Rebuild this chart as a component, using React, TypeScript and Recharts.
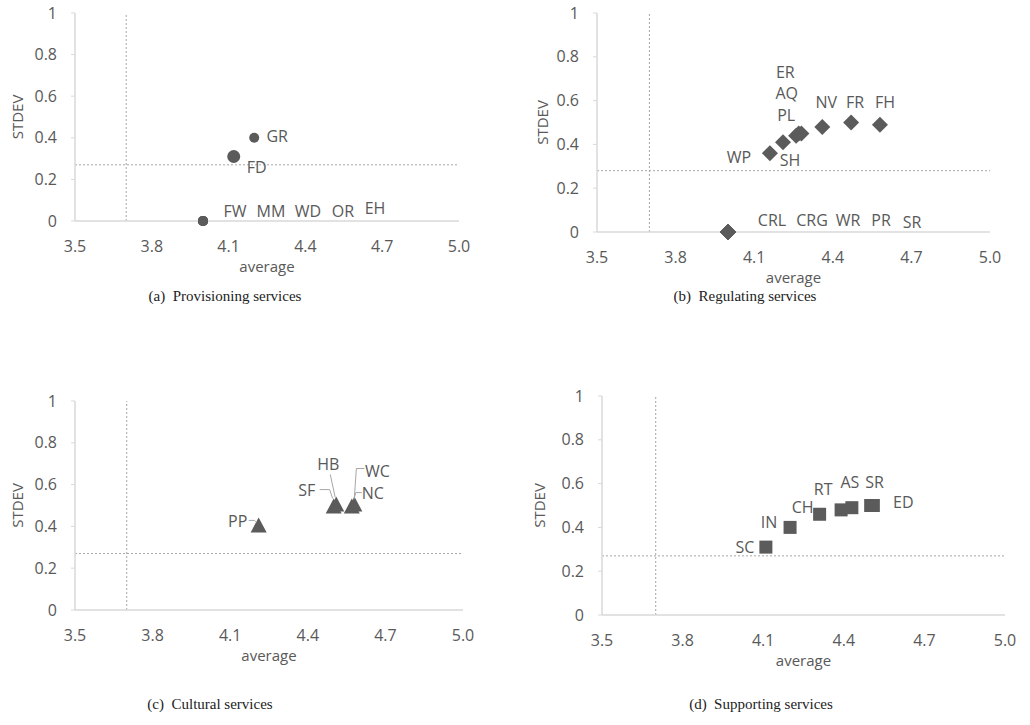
import { ScatterChart, Scatter, XAxis, YAxis, ReferenceLine } from "recharts"

// axis ticks shared by the four panels
const xTicks = [3.5, 3.8, 4.1, 4.4, 4.7, 5.0]
const yTicks = [0, 0.2, 0.4, 0.6, 0.8, 1]

// (a) provisioning
const provNames = ["FW", "MM", "WD", "OR", "EH", "FD", "GR"]
const provAvg = [4.0, 4.0, 4.0, 4.0, 4.0, 4.12, 4.2]
const provStdev = [0, 0, 0, 0, 0, 0.31, 0.4]

// (b) regulating
const regNames = ["CRL", "CRG", "WR", "PR", "SR", "WP", "SH", "PL", "AQ", "ER", "NV", "FR", "FH"]
const regAvg = [4.0, 4.0, 4.0, 4.0, 4.0, 4.16, 4.21, 4.26, 4.27, 4.28, 4.36, 4.47, 4.58]
const regStdev = [0, 0, 0, 0, 0, 0.36, 0.41, 0.44, 0.45, 0.45, 0.48, 0.5, 0.49]

// (c) cultural
const culNames = ["PP", "SF", "HB", "NC", "WC"]
const culAvg = [4.21, 4.5, 4.51, 4.57, 4.58]
const culStdev = [0.4, 0.49, 0.5, 0.49, 0.5]

// (d) supporting
const supNames = ["SC", "IN", "CH", "RT", "AS", "SR", "ED"]
const supAvg = [4.11, 4.2, 4.31, 4.39, 4.43, 4.5, 4.51]
const supStdev = [0.31, 0.4, 0.46, 0.48, 0.49, 0.5, 0.5]

// mean lines
const avgCut = 3.7
const stdevCuts = [0.27, 0.28, 0.27, 0.27]

const MARK = "#5b5b5b"
const TEXT = "#595959"
const AXIS = "#d9d9d9"
const GUIDE = "#a6a6a6"
const FONT = "'Open Sans', 'Noto Sans', sans-serif"

type Row = { name: string; avg: number; sd: number }
type LabelPos = { dx: number; dy: number; leader?: number[][] }

const rows = (names: string[], avg: number[], sd: number[]): Row[] =>
  names.map((name, i) => ({ name, avg: avg[i], sd: sd[i] }))

// label placement, pixels relative to the marker
const provLabels: Record<string, LabelPos> = {
  FW: { dx: 32, dy: -10 },
  MM: { dx: 68, dy: -10 },
  WD: { dx: 105, dy: -10 },
  OR: { dx: 140, dy: -10 },
  EH: { dx: 172, dy: -13 },
  FD: { dx: 23, dy: 10 },
  GR: { dx: 23, dy: -2 },
}
const regLabels: Record<string, LabelPos> = {
  CRL: { dx: 44, dy: -12 },
  CRG: { dx: 84, dy: -12 },
  WR: { dx: 120, dy: -12 },
  PR: { dx: 153, dy: -12 },
  SR: { dx: 184, dy: -10 },
  WP: { dx: -31, dy: 4 },
  SH: { dx: 7, dy: 18 },
  PL: { dx: -10, dy: -21 },
  AQ: { dx: -12, dy: -40 },
  ER: { dx: -16, dy: -61 },
  NV: { dx: 4, dy: -25 },
  FR: { dx: 4, dy: -21 },
  FH: { dx: 5, dy: -23 },
}
const culLabels: Record<string, LabelPos> = {
  PP: { dx: -21, dy: -5, leader: [[-10, -6], [-4, -6], [-2, -4]] },
  SF: { dx: -27, dy: -18, leader: [[-14, -18], [-4, -18], [-1, -9]] },
  HB: { dx: -8, dy: -42, leader: [[-6, -31], [-1, -8]] },
  NC: { dx: 21, dy: -15, leader: [[10, -15], [4, -15], [2, -8]] },
  WC: { dx: 23, dy: -35, leader: [[10, -37], [2, -37], [0, -8]] },
}
const supLabels: Record<string, LabelPos> = {
  SC: { dx: -21, dy: 0 },
  IN: { dx: -21, dy: -5 },
  CH: { dx: -17, dy: -7 },
  RT: { dx: -18, dy: -21 },
  AS: { dx: -2, dy: -26 },
  SR: { dx: 4, dy: -24 },
  ED: { dx: 30, dy: -4 },
}

const circle = (p: any) => (
  <circle cx={p.cx} cy={p.cy} r={p.payload.name === "FD" ? 6.5 : 5} fill={MARK} />
)
const diamond = (p: any) => (
  <path d={`M${p.cx},${p.cy - 8}L${p.cx + 8},${p.cy}L${p.cx},${p.cy + 8}L${p.cx - 8},${p.cy}Z`} fill={MARK} />
)
const triangle = (p: any) => (
  <path d={`M${p.cx},${p.cy - 9}L${p.cx + 8},${p.cy + 6}L${p.cx - 8},${p.cy + 6}Z`} fill={MARK} />
)
const square = (p: any) => <rect x={p.cx - 6.5} y={p.cy - 6.5} width={13} height={13} fill={MARK} />

const labelShape = (pos: Record<string, LabelPos>) => (p: any) => {
  const o = pos[p.payload.name]
  if (!o) return <g />
  return (
    <g>
      {o.leader && (
        <polyline
          points={o.leader.map(([x, y]) => `${p.cx + x},${p.cy + y}`).join(" ")}
          fill="none"
          stroke={GUIDE}
          strokeWidth={1}
        />
      )}
      <text
        x={p.cx + o.dx}
        y={p.cy + o.dy}
        textAnchor="middle"
        dominantBaseline="central"
        fontSize={16}
        fontFamily={FONT}
        fill={TEXT}
      >
        {p.payload.name}
      </text>
    </g>
  )
}

type PanelProps = {
  data: Row[]
  shape: (p: any) => any
  labels: Record<string, LabelPos>
  cut: number
  left: number
  top: number
  width: number
  height: number
  yWidth: number
  stdevAt: number
}

function Panel(props: PanelProps) {
  const { data, shape, labels, cut, left, top, width, height, yWidth, stdevAt } = props
  return (
    <div style={{ position: "absolute", left, top }}>
      <ScatterChart width={width} height={height} margin={{ top: 13, right: 20, bottom: 0, left: 0 }}>
        <XAxis
          type="number"
          dataKey="avg"
          domain={[3.5, 5]}
          ticks={xTicks}
          tickFormatter={(v: number) => v.toFixed(1)}
          height={69}
          tickLine={false}
          tickSize={6}
          tickMargin={14}
          axisLine={{ stroke: AXIS, strokeWidth: 1.5 }}
          tick={{ fill: TEXT, fontSize: 16, fontFamily: FONT }}
          label={{ value: "average", position: "insideBottom", offset: 18, fill: TEXT, fontSize: 15, fontFamily: FONT }}
        />
        <YAxis
          type="number"
          dataKey="sd"
          domain={[0, 1]}
          ticks={yTicks}
          width={yWidth}
          tickSize={4}
          tickMargin={14}
          tickLine={{ stroke: AXIS }}
          axisLine={{ stroke: AXIS, strokeWidth: 1.5 }}
          tick={{ fill: TEXT, fontSize: 16, fontFamily: FONT }}
          label={{
            value: "STDEV",
            angle: -90,
            position: "insideLeft",
            offset: stdevAt,
            fill: TEXT,
            fontSize: 15,
            fontFamily: FONT,
            style: { textAnchor: "middle" },
          }}
        />
        <ReferenceLine x={avgCut} stroke={GUIDE} strokeDasharray="2 2" />
        <ReferenceLine y={cut} stroke={GUIDE} strokeDasharray="2 2" />
        <Scatter data={data} shape={shape} isAnimationActive={false} />
        <Scatter data={data} shape={labelShape(labels)} isAnimationActive={false} />
      </ScatterChart>
    </div>
  )
}

const captionStyle = {
  position: "absolute" as const,
  fontFamily: "'Liberation Serif', 'Times New Roman', serif",
  fontSize: 15,
  color: "#222",
  transform: "translateX(-50%)",
  whiteSpace: "nowrap" as const,
}

export default function App() {
  return (
    <div style={{ position: "absolute", left: 0, top: 0, width: 1030, height: 725, background: "#fff" }}>
      <Panel
        data={rows(provNames, provAvg, provStdev)}
        shape={circle}
        labels={provLabels}
        cut={stdevCuts[0]}
        left={0}
        top={0}
        width={479}
        height={290}
        yWidth={75}
        stdevAt={18}
      />
      <Panel
        data={rows(regNames, regAvg, regStdev)}
        shape={diamond}
        labels={regLabels}
        cut={stdevCuts[1]}
        left={520}
        top={0}
        width={490}
        height={301}
        yWidth={77}
        stdevAt={23}
      />
      <Panel
        data={rows(culNames, culAvg, culStdev)}
        shape={triangle}
        labels={culLabels}
        cut={stdevCuts[2]}
        left={0}
        top={388}
        width={483}
        height={291}
        yWidth={75}
        stdevAt={18}
      />
      <Panel
        data={rows(supNames, supAvg, supStdev)}
        shape={square}
        labels={supLabels}
        cut={stdevCuts[3]}
        left={525}
        top={383}
        width={500}
        height={301}
        yWidth={77}
        stdevAt={15}
      />
      <div style={{ ...captionStyle, left: 225, top: 288 }}>(a)&nbsp; Provisioning services</div>
      <div style={{ ...captionStyle, left: 745, top: 288 }}>(b)&nbsp; Regulating services</div>
      <div style={{ ...captionStyle, left: 210, top: 696 }}>(c)&nbsp; Cultural services</div>
      <div style={{ ...captionStyle, left: 761, top: 696 }}>(d)&nbsp; Supporting services</div>
    </div>
  )
}
